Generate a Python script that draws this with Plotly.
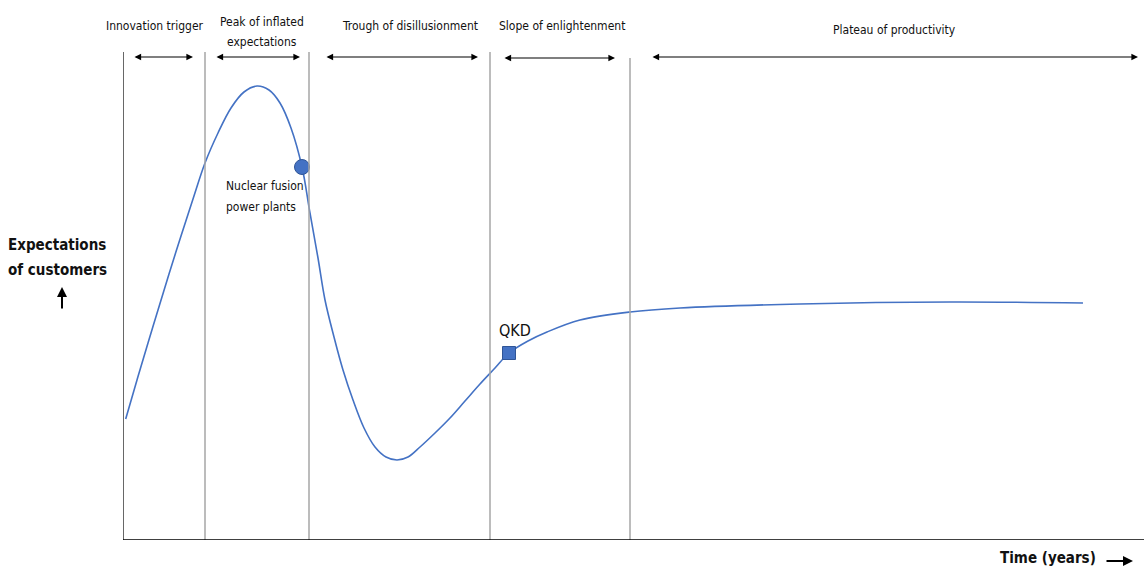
import plotly.graph_objects as go

# Hype-cycle curve (time units vs expectation units)
curve_time = [2.7, 14, 25, 35, 46, 58, 70, 82, 95, 108, 121, 134, 146, 157, 168, 179,
              187, 195, 202, 211, 220, 230, 241, 252, 263, 274, 285, 297, 312, 327,
              342, 357, 372, 386, 405, 424, 457, 507, 557, 677, 827, 960]
curve_expect = [121, 160, 197, 230, 266, 304, 341, 377, 407, 432, 448, 454, 450, 437, 412, 373,
                327, 282, 240, 203, 170, 140, 112, 93, 83, 80, 83, 93, 107, 122,
                139, 156, 172, 187, 199, 208, 220, 228, 232, 236, 238, 237]

# Technologies placed on the curve
tech_names = ["Nuclear fusion<br>power plants", "QKD"]
tech_time = [179, 386]
tech_expect = [373, 187]

# Phase boundaries and phase labels
phase_bounds = [82, 186, 367, 507]
phase_labels = ["Innovation trigger", "Peak of inflated<br>expectations",
                "Trough of disillusionment", "Slope of enlightenment",
                "Plateau of productivity"]
phase_label_x = [32, 139, 287, 439, 771]
phase_label_y = [514, 518, 514, 514, 510]   # top line position
phase_arrow_start = [10, 92, 202, 380, 528]
phase_arrow_end = [70, 177, 355, 492, 1015]
phase_arrow_y = [483, 483, 483, 482, 483]

XW, YH = 1021.0, 490.0  # axis spans in data units (for paper placement of outside text)
LINE_GAP = 20.0

FONT = "DejaVu Sans Condensed, Liberation Sans Narrow, Arial Narrow, sans-serif"
BLUE = "#4472C4"

fig = go.Figure()
fig.add_trace(go.Scatter(x=curve_time, y=curve_expect, mode="lines",
                         line=dict(color=BLUE, width=1.6, shape="spline", smoothing=1.0),
                         hoverinfo="skip", showlegend=False))
fig.add_trace(go.Scatter(x=tech_time[:1], y=tech_expect[:1], mode="markers",
                         marker=dict(symbol="circle", size=15, color=BLUE,
                                     line=dict(color="#2F5597", width=1)),
                         showlegend=False))
fig.add_trace(go.Scatter(x=tech_time[1:], y=tech_expect[1:], mode="markers",
                         marker=dict(symbol="square", size=13, color=BLUE,
                                     line=dict(color="#2F5597", width=1)),
                         showlegend=False))

shapes = []
for b in phase_bounds:
    shapes.append(dict(type="line", xref="x", yref="y", x0=b, x1=b, y0=0,
                       y1=488 if b < 500 else 482,
                       line=dict(color="#A6A6A6", width=1.5)))
# axes
shapes.append(dict(type="line", xref="x", yref="y", x0=0, x1=0, y0=0, y1=488,
                   line=dict(color="#404040", width=1.6)))
shapes.append(dict(type="line", xref="x", yref="y", x0=0, x1=1021, y0=0, y1=0,
                   line=dict(color="#000000", width=1.6)))

annotations = []
for lab, lx, ly in zip(phase_labels, phase_label_x, phase_label_y):
    for i, part in enumerate(lab.split("<br>")):
        annotations.append(dict(x=lx / XW, y=(ly - i * LINE_GAP) / YH, xref="paper",
                                yref="paper", text=part, showarrow=False,
                                font=dict(family=FONT, size=12, color="#111"),
                                xanchor="center", yanchor="middle"))
for s, e, ay in zip(phase_arrow_start, phase_arrow_end, phase_arrow_y):
    annotations.append(dict(x=e, y=ay, ax=s, ay=ay, xref="x", yref="y", axref="x", ayref="y",
                            text="", showarrow=True, arrowhead=2, arrowside="end+start",
                            arrowsize=1.1, arrowwidth=1.2, arrowcolor="#000"))

# technology labels
for i, part in enumerate(tech_names[0].split("<br>")):
    annotations.append(dict(x=101, y=354 - i * 21, xref="x", yref="y", text=part,
                            showarrow=False, font=dict(family=FONT, size=12, color="#111"),
                            xanchor="left", yanchor="middle"))
annotations.append(dict(x=374, y=210, xref="x", yref="y", text=tech_names[1], showarrow=False,
                        font=dict(family=FONT, size=16, color="#111"), xanchor="left",
                        yanchor="middle"))

# axis titles (outside plotting area -> paper coordinates)
for i, part in enumerate(["Expectations", "of customers"]):
    annotations.append(dict(x=-66 / XW, y=(295 - i * 25) / YH, xref="paper", yref="paper",
                            text="<b>" + part + "</b>", showarrow=False,
                            font=dict(family=FONT, size=15, color="#111"), xanchor="center",
                            yanchor="middle"))
annotations.append(dict(x=-61 / XW, y=253 / YH, ax=0, ay=23, xref="paper", yref="paper",
                        text="", showarrow=True, arrowhead=2, arrowsize=1, arrowwidth=2,
                        arrowcolor="#000"))
annotations.append(dict(x=975 / XW, y=-18 / YH, xref="paper", yref="paper",
                        text="<b>Time (years)</b>",
                        showarrow=False, font=dict(family=FONT, size=15, color="#111"),
                        xanchor="right", yanchor="middle"))
annotations.append(dict(x=1010 / XW, y=-21 / YH, ax=-28, ay=0, xref="paper", yref="paper",
                        text="", showarrow=True, arrowhead=2, arrowsize=1, arrowwidth=2,
                        arrowcolor="#000"))

fig.update_layout(
    width=1144, height=570,
    margin=dict(l=123, r=0, t=50, b=30),
    paper_bgcolor="white", plot_bgcolor="white",
    xaxis=dict(range=[0, 1021], visible=False, fixedrange=True),
    yaxis=dict(range=[0, 490], visible=False, fixedrange=True),
    shapes=shapes, annotations=annotations,
    font=dict(family=FONT),
)
fig.write_html("out.html")
